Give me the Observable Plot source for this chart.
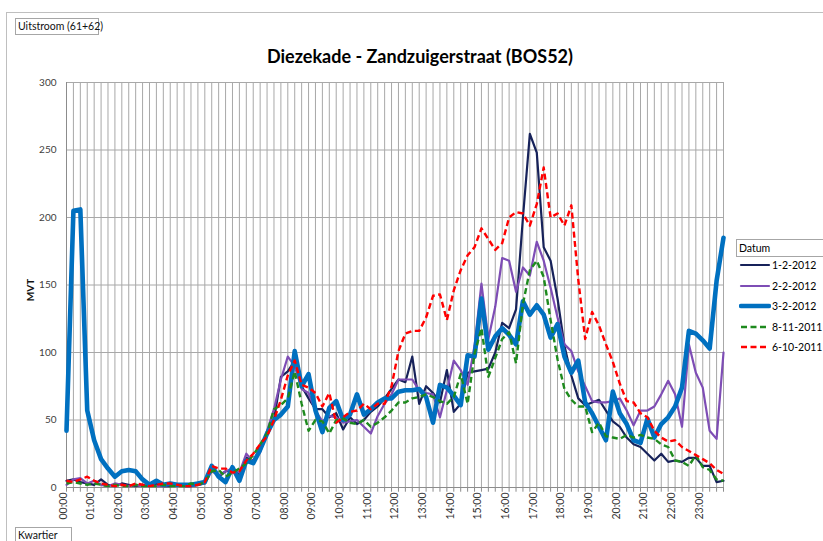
<!DOCTYPE html>
<html><head><meta charset="utf-8">
<script src="https://cdn.jsdelivr.net/npm/d3@7"></script>
<script src="https://cdn.jsdelivr.net/npm/@observablehq/plot@0.6"></script>
<style>
body{margin:0;background:#fff;font-family:Lato,"Open Sans",sans-serif;}
#wrap{position:relative;width:823px;height:541px;overflow:hidden;background:#fff;}
#border{position:absolute;left:6px;top:12px;width:840px;height:560px;border:1px solid #bfbfbf;}
.box{position:absolute;border:1px solid #a6a6a6;font-size:10.5px;color:#111;line-height:15px;padding-left:2px;white-space:nowrap;}
#uit{left:15px;top:18px;width:80px;height:15px;}
#kw{left:15px;top:527px;width:53px;height:20px;}
#title{position:absolute;left:170px;width:500px;top:45px;text-align:center;font-weight:bold;font-size:18px;color:#000;}
#mvt{position:absolute;left:30px;top:290px;transform:translate(-50%,-50%) rotate(-90deg);font-weight:bold;font-size:10px;color:#111;}
#chart{position:absolute;left:0;top:0;}
#legend{position:absolute;left:736px;top:239px;width:100px;}
#legend .hdr{border:1px solid #a6a6a6;height:16px;line-height:16px;font-size:10.5px;padding-left:2px;width:100px;}
#legend .item{position:absolute;left:0;height:14px;font-size:10.5px;line-height:14px;white-space:nowrap;}
#legend .item svg{position:absolute;left:3px;top:0;}
#legend .item span{position:absolute;left:36px;top:0;}
</style></head><body>
<div id="wrap">
  <div id="border"></div>
  <div class="box" id="uit">Uitstroom (61+62)</div>
  <div id="title">Diezekade - Zandzuigerstraat (BOS52)</div>
  <div id="chart"></div>
  <div id="mvt">MVT</div>
  <div class="box" id="kw">Kwartier</div>
  <div id="legend"><div class="hdr">Datum</div></div>
</div>
<script>
// category labels (hours shown on the axis; 4 quarters per hour)
const hourLabels = ["00:00","01:00","02:00","03:00","04:00","05:00","06:00","07:00","08:00","09:00","10:00","11:00",
  "12:00","13:00","14:00","15:00","16:00","17:00","18:00","19:00","20:00","21:00","22:00","23:00"];
const quarterMinutes = ["00","15","30","45"];
const quarters = hourLabels.flatMap(h => quarterMinutes.map(m => h.slice(0,3) + m));
const yTicks = [0, 50, 100, 150, 200, 250, 300];

// series values (MVT per quarter)
const s_1_2_2012 = [5,6,4,3,2,6,2,1,3,2, 1,2,1,3,1,1,2,1,1,2, 3,14,8,12,13,10,22,20,28,40,
  50,82,86,94,75,66,58,58,52,55, 43,52,47,50,56,60,66,73,80,78, 97,62,75,70,63,87,56,62,85,86,
  87,88,100,122,118,132,200,262,248,178, 168,140,105,83,66,61,63,65,57,49, 45,37,32,30,25,20,25,19,20,19,
  22,22,16,16,4,5];
const s_2_2_2012 = [2,6,7,3,5,2,1,3,2,1, 2,1,2,1,1,2,1,2,1,2, 3,12,9,12,14,11,25,19,26,42,
  58,80,97,90,73,70,57,49,53,52, 48,49,50,45,40,53,62,69,80,80, 80,72,70,69,52,72,94,87,76,105,
  151,110,134,170,168,145,163,157,182,168, 148,126,106,101,86,75,64,63,63,64, 66,57,46,57,57,60,69,79,69,45,
  106,85,74,42,36,100];
const s_3_2_2012 = [42,205,206,57,35,21,14,8,12,13, 12,6,2,5,2,3,2,2,2,3, 4,16,8,4,15,5,20,18,28,40,
  50,54,60,101,75,84,57,41,59,64, 50,54,69,54,58,63,66,66,71,72, 72,73,67,48,76,74,68,61,98,97,
  140,102,112,118,113,106,138,128,135,128, 111,121,97,85,94,63,55,45,35,71, 55,47,35,33,51,37,47,52,60,74,
  116,114,109,103,153,185];
const s_8_11_2011 = [3,4,3,2,3,2,1,2,1,1, 2,1,1,1,2,1,1,1,3,2, 4,12,13,8,11,14,18,24,32,40,
  58,61,66,86,62,42,50,49,40,50, 51,48,47,50,45,48,52,57,63,63, 66,67,69,67,64,62,67,84,62,99,
  118,82,96,110,115,92,136,161,168,156, 124,95,73,65,60,60,41,48,38,37, 36,39,37,39,37,36,32,30,20,19,
  16,24,15,13,6,5];
const s_6_10_2011 = [5,4,6,8,5,3,2,1,2,1, 3,2,1,2,3,3,2,1,1,2, 4,16,14,14,11,12,20,25,32,38,
  50,65,83,94,76,74,70,60,70,48, 52,56,57,62,58,62,62,75,101,114, 116,116,126,142,143,124,146,161,172,178,
  192,184,176,181,200,204,203,194,210,237, 200,203,194,209,154,110,130,120,106,93, 77,64,63,55,52,42,37,34,35,30,
  27,24,21,18,13,10];

const seriesNames = ["1-2-2012","2-2-2012","3-2-2012","8-11-2011","6-10-2011"];
const seriesData = [s_1_2_2012, s_2_2_2012, s_3_2_2012, s_8_11_2011, s_6_10_2011];
const seriesStyle = [
  {stroke:"#17225a", strokeWidth:2.2},
  {stroke:"#7e4db5", strokeWidth:2.2},
  {stroke:"#0070c0", strokeWidth:4.6},
  {stroke:"#1e8a1e", strokeWidth:2.4, strokeDasharray:"6,3.5"},
  {stroke:"#ff0000", strokeWidth:2.4, strokeDasharray:"6,3.5"}
];

const idx = quarters.map((q,i)=>i);
const lineMarks = seriesData.map((vals, k) => Plot.line(vals.map((v,i)=>({q: quarters[i], i, v})), {
  x: "i", y: "v",
  strokeLinejoin: "round",
  strokeLinecap: seriesStyle[k].strokeDasharray ? "butt" : "round",
  ...seriesStyle[k]
}));

const chart = Plot.plot({
  width: 823, height: 541,
  marginLeft: 66, marginRight: 100, marginTop: 82, marginBottom: 54,
  x: {domain: [0, quarters.length - 1], axis: null},
  y: {domain: [0, 300], axis: null},
  style: {background: "transparent", fontFamily: "Lato, 'Open Sans', sans-serif", overflow: "visible"},
  marks: [
    Plot.ruleX(idx, {x: d=>d, stroke: "#a8a8a8", strokeWidth: 1}),
    Plot.ruleY(yTicks, {y: d=>d, stroke: "#a8a8a8", strokeWidth: 1}),
    Plot.ruleX(idx, {x: d=>d, y1: 0, y2: -3.5, stroke: "#8c8c8c"}),
    Plot.ruleY([0], {stroke: "#8c8c8c"}),
    Plot.ruleX([0], {stroke: "#8c8c8c"}),
    Plot.text(yTicks, {x: 0, y: d=>d, text: d=>String(d), textAnchor: "end", dx: -10, fontSize: 10, fill: "#404040"}),
    Plot.text(hourLabels, {x: (d,i)=>i*4, frameAnchor: "bottom", text: d=>d, rotate: -90, textAnchor: "end", dy: 5, fontSize: 10.5, fill: "#333"}),
    ...lineMarks
  ]
});
document.getElementById("chart").appendChild(chart);

// legend
const legend = document.getElementById("legend");
const itemTops = [19, 40, 60, 81, 101];
seriesNames.forEach((name, k) => {
  const st = seriesStyle[k];
  const div = document.createElement("div");
  div.className = "item";
  div.style.top = itemTops[k] + "px";
  div.innerHTML = `<svg width="32" height="14"><line x1="2" x2="30" y1="7" y2="7" stroke="${st.stroke}" stroke-width="${st.strokeWidth}" ${st.strokeDasharray ? `stroke-dasharray="${st.strokeDasharray}"` : `stroke-linecap="round"`}/></svg><span>${name}</span>`;
  legend.appendChild(div);
});
</script>
</body></html>
